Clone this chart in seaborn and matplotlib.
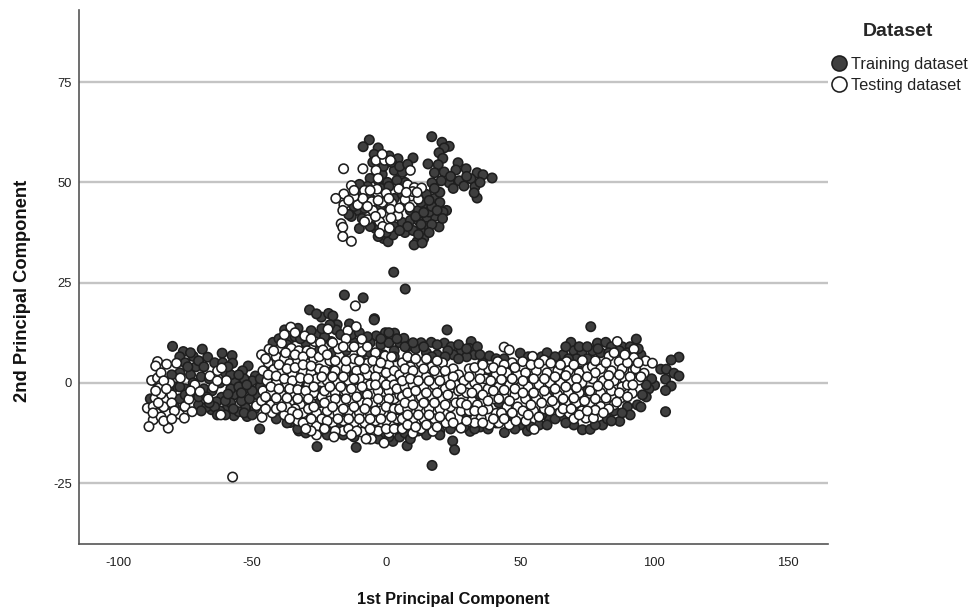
import pandas as pd
import seaborn as sns
import matplotlib.pyplot as plt

# values (pc1, pc2)
train_upper = [(-6.3,60.6),(-8.6,58.9),(-3,58.6),(1.1,56.6),(10,56.1),(4.4,55.9),(17,61.4),(20.8,60),(23.5,59),(21.6,58.6),
    (19.7,57.4),(21.1,56),(15.6,54.6),(19.4,54.4),(26.8,54.9),(29.8,53.4),(26,53.1),(18,52.4),(21.6,52.6),(33.9,52.4),
    (36.1,51.9),(39.5,51.1),(31.6,50.9),(27.2,50.4),(23.5,49.9),(20.5,50.4),(17.1,49.9),(29,49.1),(33.1,48.9),(33.9,46.1),
    (32.8,47.4),(-2,56.5),(-4.5,57),(-1.5,52),(3,53),(6,52.5),(0.5,50),(-3,50.5),(7,50),(-6,51),(-9,47),(-12,46),(-6,46),
    (-11,43),(-13,41.5),(-9,41),(-5,41),(-2,44),(3,46),(6,47),(-8,43.5),(-4,38.5),(-1,36),(0.7,35.2),(2.6,36.9),(-2.5,38.5),
    (3,39),(6,40),(9,40.5),(9,43),(12,43),(15,44),(18,46),(20,45),(22.5,43),(21.2,42.6),(18,41.5),(15,41),(12,40.5),(16,42.6),
    (19.7,38.9),(15,39),(13,37.7),(14,36),(11.5,35.2),(10.4,34.4),(13.4,34.9),(12,46.5),(15,47),(7,37.5),(4,43),
    (-5,55),(-1,54),(2,55),(5,54),(8,54.5),(-2,48.5),(1,49),(4,50.5),(7,44.5),(11,41.5),(14,42.5),(17,44),(19,43),(21,41),
    (17,39.5),(13,39.5),(10,38),(16,37.5),(12,37),(8,39),(5,38),(0,37.5),(-3,36.5),(-6,39),(-10,38.5),(-12,44),(-14,42),
    (-7,49),(-10,49.5),(13,45),(16,45.5),(20,47.5),(18,48.5),(24,51.5),(25,48.5),(30,51.5),(35,50)]
train_left = [(-79.7,9.1),(-68.6,8.4),(-75.7,7.8),(-77,6.5),(-72,6.6),(-66.6,6.4),(-61.2,7.4),(-57.5,6.8),(-57.3,4.9),(-51.5,4.2),
    (-53.6,3),(-48.8,1.7),(-75,5),(-71,4),(-73,7.5),(-70,5.5),(-73,2),(-77,2.5),(-69,1.5),(-79,-1),(-75,-1.5),(-72,-3),(-77,-4),
    (-83,-3),(-68,-1.5),(-66,1),(-62,0),(-65,-2),(-70,-5.5),(-65.2,-6.7),(-59.6,-6.6),(-56.8,-8.2),(-51.9,-8.4),(-52.5,-6.2),
    (-52.7,-1.5),(-56.8,-3),(-56.5,0.3),(-61.4,-3.6),(-63.3,-4.7),(-60,2.5),(-48,-3),(-50,0.5),(-47,-1),(-54,-4.5),(-58,-5),
    (-49,-6.5),(-62,-7),(-67,-6),(-55,-7.2),(-53,1),(-47.2,-11.5),(-88,-4),(-85,-1),(-80,2),(-64,5),
    (-74,4),(-68,4),(-72,0),(-75,-3),(-70,-3.5),(-67,-3.5),(-64,-6),(-60,-4.5),(-58,-1.5),(-55,-1),(-59,-2.8),(-54,-2.5),
    (-51,-4),(-50,-2),(-52,-0.5),(-58,2),(-55,2),(-61,5),(-59,4),(-79,-6),(-77,-1),(-81,-2),(-66,-5),(-53,-7.5),(-57,-6.5),
    (-60,-8),(-63,-8),(-69,-7),(-47,1),(-45,3),(-44,-1),(-50,-8)]
train_mid = [(-32.6,-12),(-25.8,-15.9),(-11.2,-16.1),(-4.4,16),(-6.2,-14),(2.5,-14.6),(-13.7,-11.7),(-35.8,-9.9),(-42.2,10.1),
    (-37.9,13.2),(-32.9,13.6),(-36,11),(-34,11.5),(-28.6,18.2),(-24.2,16.4),(-26,17.2),(-21.5,17.3),(-19.9,16.7),(-18.3,14.5),
    (-13.7,14.7),(-26.1,12),(-18.6,13.2),(-20.5,10.3),(-23,11.5),(-15,11.5),(-12,10),(-3.7,11.7),(-0.3,12.5),(3.1,12.4),(-6,10),
    (-2,9.5),(1,10),(5,10),(6.6,11.1),(3,8),(8,9),(-9,7.5),(-30,10),(-38,7),(-34,-8),(-28,-10.5),(-20,-12),(-16,-13),(-2,-13),
    (5,-13.5),(7.8,-15.7),(-22,-13),(-39,-7),(-44,-3),(-30,0),(-20,3),(-10,-3),(0,4),(-25,-5),(-15,-7),(2.8,27.6),(7.1,23.4),
    (-15.6,21.9),(-8.6,21.2),(-4.5,15.7),
    (-40,11),(-37,9.5),(-32,11),(-28,13),(-24,13.5),(-21,14.5),(-17,12),(-13,12),(-10,12.5),(-7,11.5),(-2,11),(1,12.5),(4,11),
    (7,9),(-25,8),(-20,7.5),(-15,8),(-6,7.5),(-1,7),(3,6.5),(-33,-11.5),(-30,-12.5),(-24,-11.5),(-18,-11),(-12,-13.5),(-8,-12.5),
    (-3,-14),(1,-13.5),(4,-11.5),(7,-12.5),(9,-14),(-37,-10),(-41,-9),(-25,-2),(-12,2),(-5,-6),(4,-8),(-18,-4),(-8,5)]
train_right = [(22.7,13.2),(13,10),(16.8,10.1),(21.7,9.9),(24.2,9),(31.7,10.3),(31,8.6),(28,8),(25,7),(33,7),(30,6.5),(36,5),
    (11,8.5),(15,7.5),(19,7),(38.5,6.7),(50,7.4),(55,5),(58,6.5),(61,6),(64,5),(68.9,10.1),(70,8),(73,7.5),(66,7),(76.3,14),
    (78.8,9.9),(81.9,10.1),(77,8),(80,7.5),(84,9),(88,9),(91,9),(93.3,10.9),(95,7),(109.2,6.4),(106.3,5.7),(102.4,3.4),(104.5,3.4),
    (107.3,2.4),(109.2,1.7),(104.2,0.9),(106.3,-0.8),(104.2,-1.9),(100.1,-0.6),(104.2,-7.2),(98,-1.5),(97,-3.5),(87.1,-9.6),
    (80.7,-10.5),(82.5,-9),(73.2,-11.7),(76.1,-11.6),(44.1,-12.4),(52.7,-12),(57.1,-10.5),(35.1,-11),(31.3,-12.1),(24.8,-14.5),
    (25.5,-16.7),(17.1,-20.6),(60.8,-9),(65.8,-8.4),(90,-6),(93.7,-5.5),(95.6,-3),(14,-11),(20,-12),(30,-8),(42,-5),(47,-8),
    (55,-4),(62,-3),(70,-6),(75,-2),(85,-7),(40,2),(47,3),(53,1),(64,2),(72,3),(35,-3),(58,-8),
    (10,10),(14,9),(19,9.5),(23,8),(27,9.5),(27,6),(30,8.5),(34,9),(35,7),(22,6.5),(17,6.5),(41,6),(44,6),(53,6.5),(60,7.5),(63,6.5),
    (67,9),(72,9),(75,9),(79,8.5),(83,7.5),(87,8),(90,7.5),(94,8.5),(75,6),(71,6),(68,6),(99,1),(97,-0.5),(95,-6),(91,-8),(88,-7.5),
    (84,-9.5),(78,-10.5),(70,-10.5),(67,-10),(63,-9),(60,-10.5),(54,-11),(50,-10.5),(48,-11.5),(41,-10),(38,-11.5),(33,-11.5),
    (29,-11),(24,-11.5),(20,-13),(15,-13),(12,-12)]

test_left = [(-85.3,5.3),(-86,4.2),(-81.9,4.65),(-78.2,4.9),(-87.5,0.6),(-85.3,1.2),(-84,-0.5),(-80.7,-0.1),(-84.8,-1.3),(-86.2,-3.8),
    (-82.5,-4.2),(-84,-2.8),(-80,-3),(-89.1,-6.3),(-86.9,-5.9),(-85.6,-7.6),(-81.9,-7.6),(-83,-6),(-86.9,-9.2),(-88.5,-10.9),(-81.3,-11.3),
    (-77.2,-7.8),(-75.3,-8.8),(-75.1,-5.9),(-72.4,-7.2),(-73.6,-4.1),(-71.4,-0.5),(-73,-2),(-69.5,-2.2),(-65.8,1.7),(-62.9,3),
    (-64.5,-1.1),(-66.4,-4),(-59.6,0.6),(-61.7,-8),(-76.8,1.2),(-61.4,3.7),(-48.4,-5.7),(-46.3,-8.6),(-57.3,-23.5),(-84,2.5),(-63,0.5),
    (-83,0.5),(-86,-2),(-82,-1.5),(-80,-5),(-85,-5),(-79,-7),(-84,-8.5),(-87,-7.5),(-83,-9.5),(-80,-9)]
test_a = [(-35.6,13.9),(-30.4,11.7),(-39,9.9),(-43.7,8.4),(-46.5,7),(-35.4,8.6),(-32.6,8),(-29.5,8),(-26.7,10.3),(-41,6.5),(-38,6),
    (-44,5),(-36,4.8),(-33,5.5),(-30,5),(-27,6),(-46,3),(-42,3.3),(-39,2.5),(-35,2.2),(-31,2.8),(-28,2.5),(-44.5,0.5),(-41,0),
    (-37,-0.3),(-33,0),(-29,-0.5),(-26,1),(-46,-2),(-43,-2.5),(-39,-3),(-35,-2.5),(-31,-3),(-27,-2.5),(-46.5,-4.5),(-43,-5.5),
    (-40,-5),(-36,-5),(-32,-5.5),(-28,-5),(-42.5,-7.5),(-38,-8),(-34,-6.5),(-30,-8),(-26,-7.5),(-33,-9.5),(-29,-10),(-26,-10.8),
    (-31,-7.5),(-37,-6),(-24,-3.5),(-25,3.5),(-24,-9),
    (-34,12.5),(-38,12),(-28,11),(-24.5,10),(-42,8),(-37.5,7.5),(-34,7),(-31,6.5),(-28,7.5),(-25,6.5),(-45,6),(-40,4.5),(-37,3.5),
    (-34,3.8),(-31,4.5),(-28,4.2),(-44,2),(-41,1.7),(-38,1),(-35,0.5),(-32,1.2),(-29,1),(-43,-1),(-40,-1.5),(-36,-1.5),(-33,-1.7),
    (-30,-2),(-27,-1),(-45,-3.5),(-41,-3.8),(-37,-3.8),(-33,-4),(-29,-4),(-45,-6.5),(-41,-6.5),(-39,-6),(-35,-7.2),(-33,-7.8),(-29,-6.5),
    (-27,-6),(-36,-9),(-31,-10),(-28,-9)]
test_b = [(-21.7,13.4),(-14.3,13),(-11.2,14),(-23.6,8.2),(-17.4,6.6),(-13.7,9),(-9.1,10.9),(-9.1,7.8),(-0.4,6.7),(-6.8,4.9),(-15,11),
    (-21,5.5),(-18,8.5),(-12,6),(-4,7.5),(-23,3),(-19,3),(-15,3.5),(-11,3),(-7,2),(-3,3.5),(1,4.5),(-22,0.5),(-18,0),(-14,0.5),
    (-10,1),(-6,-0.5),(-2,0.5),(2,1),(-23,-2),(-19,-2.5),(-15,-2),(-11,-1.5),(-7,-3),(-3,-2),(1,-2),(5,-1),(-21,-4.5),(-17,-5),
    (-13,-4.5),(-9,-5),(-5,-5),(-1,-4.5),(3,-4),(-22,-7),(-18,-7.5),(-14,-7),(-10,-7.5),(-6,-7.5),(-2,-7),(2,-6.5),(-20,-10),(-16,-9.5),
    (-12,-10),(-8,-10),(-4,-9.5),(0,-9.5),(4,-9),(-16,-12),(-9,-12.3),(-3,-12),(1,-12.5),(-0.8,-15),(-5.5,-14),(-26,-13),(-28,-12),(-30,-11.5),
    (-20,10),(-16,9),(-12,9),(-7,9),(-22,7),(-19,5.5),(-15,5.5),(-10,5.5),(-5,5.5),(-2,5),(2,6.5),(-24,1.5),(-20,1.5),(-16,1.5),(-12,1),
    (-8,3.5),(-4,1.5),(0,2.5),(3,3),(-21,-1),(-17,-1),(-13,-1.5),(-9,-1),(-4,-0.5),(0,-0.5),(3,-0.5),(-23,-5),(-19,-4),(-15,-4),(-11,-3.5),
    (-7,-5),(-3,-4),(1,-4),(5,-3),(-20,-6),(-16,-6.5),(-12,-6),(-8,-6.5),(-4,-7),(0,-6),(3,-6.5),(-22,-9.5),(-18,-9),(-14,-9),(-10,-9),
    (-6,-9),(-2,-9),(2,-8.5),(-23,-11.5),(-19,-12),(-14,-11.5),(-11,-12),(-6,-11.5),(0,-11.5),(3,-11.5),(-19.5,-13.5),(-13,-13),(-7.5,-14)]
test_c = [(6,5),(9,4),(13,5),(17,4),(21,5),(25,3.5),(5,2),(8,1.5),(12,2.5),(15,1.5),(19,2),(23,1),(27,2),(4,-1.5),(7,-1),(10,-0.5),
    (14,-1),(18,-0.5),(22,-1.5),(26,-0.5),(6,-3.5),(9,-4),(13,-3.5),(17,-3.5),(21,-4),(25,-3.5),(5,-6.5),(8,-6.5),(12,-6),(16,-6.5),
    (20,-6.5),(24,-6),(6,-9),(10,-9),(14,-9),(18,-9),(22.3,-10),(9.9,-12.6),(17.4,-12.1),(13,-11.5),(6,-11.5),(24,-8.5),(28,-7),
    (8,6.5),(11,6),(15,6),(19,5.5),(7,3.5),(10,3),(14,3.5),(18,3),(22,3),(25,1.5),(6,0.5),(9,1),(12,0.5),(16,0.5),(20,0.5),(24,-0.5),
    (8,-2.5),(11,-2),(15,-2.5),(19,-2.5),(23,-3),(27,-2),(7,-5),(10,-5.5),(14,-5),(18,-5),(22,-5.5),(26,-5),(8,-8),(12,-8),(16,-8),
    (20,-8.5),(8,-10.5),(11,-11),(15,-10.5),(19,-11),(25,-10)]
test_d = [(44,8.9),(45.9,8.2),(41.6,5.3),(50.9,5.3),(47,5),(44,4.5),(38,3.5),(35,2.5),(31,3.5),(29,0.5),(33,0),(37,1),(41,2),(45,2.5),
    (49,2),(30,-2.5),(34,-1.5),(38,-1.5),(42,-1),(46,-0.5),(50,-1),(28,-5),(32,-4.5),(36,-5),(40,-4),(44,-3.5),(48,-3),(31,-7),(35.4,-8.8),
    (41,-7.6),(38,-6.5),(45,-6),(49,-6),(27.9,-11.3),(38.5,-10.5),(45.9,-10.5),(48.4,-9.5),(33,-10),(42,-10),
    (33,3.8),(36,4.5),(40,3.8),(43,3),(48,3.8),(31,1.5),(35,1),(39,0.5),(43,0.8),(47,1),(28,-1.5),(32,-2.5),(36,-3),(40,-2),(44,-1.8),(48,-1.5),
    (30,-5.5),(34,-5.5),(38,-4.5),(42,-4),(46,-4.5),(33,-7),(36,-7),(40,-9),(43,-7.5),(47,-7.5),(30,-9.5),(36,-10),(44,-9)]
test_e = [(54.6,6.6),(58.9,5.7),(61.4,4.9),(67.3,5.3),(73.2,5.6),(52,2.5),(56,3),(60,2.5),(64,3),(68,3),(72,2.5),(53,-1),(57,-0.5),(61,0),
    (65,0),(69,0.5),(73,0),(52,-4),(56,-4),(60,-3.5),(64,-3),(68,-2.5),(72,-2.5),(51,-7),(55,-7),(59,-6.5),(63,-5.5),(67,-5),(71,-5),
    (52.1,-9.5),(55.2,-11.6),(64.9,-7.4),(68.3,-7.6),(74.5,-8.8),(73,-7),(70,-9),
    (54,4.5),(57,4.8),(65,4.5),(70,4.5),(75,3.5),(51,0.5),(55,1),(59,1),(63,1.5),(67,1.8),(71,1),(51,-2.5),(55,-2.5),(59,-2),(63,-1.5),(67,-1),(71,-1.2),
    (54,-5.5),(58,-5),(62,-4.5),(66,-4),(70,-3.8),(53,-8),(57,-8.5),(61,-7),(66,-6.5),(69,-6.5),(72,-8)]
test_right = [(76.9,4.1),(86.2,10.3),(92.4,8.4),(83.1,6.6),(86.9,5.3),(96.8,5.5),(99.3,4.9),(92.4,6.3),(80,-5.9),(77.3,-8.8),(85,-5.5),
    (87.5,-3.8),(91.8,-2.6),(94.3,0.7),(96.2,2.4),(80,3.5),(84,3),(88,3.5),(92,3),(77,1),(81,0.5),(85,0.5),(89,1),(93,3.5),(76,-2),
    (80,-2.5),(84,-2),(88,-1),(76,-5),(82,-3.8),(90,-0.5),(90,5),(74,-4.5),(78,-6.8),
    (78,5.5),(82,5),(85,7.5),(89,7),(94,5),(78,2.5),(83,1.8),(87,2),(91,1.5),(95,1.5),(75,1.5),(79,-0.8),(83,-0.5),(87,-2.5),(92,-0.5),(78,-4),(83,-6.5),
    (86,-4.8),(90,-3.5),(81,-7.5),(75,-7)]
test_upper = [(-15.9,53.4),(-8.7,53.4),(-3.8,55.5),(-0.6,55.5),(1.6,55.5),(-3.8,53),(9,53),(-13,49.2),(-15.8,47.1),(-18.8,46),(-8.1,48),
    (-3.4,48.3),(0,47.3),(4.7,48.4),(8,49.4),(10.5,48.7),(13.2,48.6),(9.3,46.6),(12,45.8),(7,45.7),(-5.4,45.2),(-10.6,44.4),(-15.8,44.4),
    (-16.2,43),(-8.7,46),(2.1,44.8),(1.6,43.3),(-1.9,42.3),(-5,43),(4.3,41.7),(8.7,43.8),(-6.9,40.7),(-2.5,40.2),(1.8,41.1),(-1.3,39),
    (-16.8,39.7),(-16.2,38.8),(-16.2,36.5),(-13,35.3),(-2.5,37.3),(1.2,38.6),(-8.1,40.2),(4.9,43.6),(9.9,47.7),(-11.5,19.2),(-12,46.5),
    (-6,48),(-1.5,45),(-4,41.5),(-3,51),(-1.5,57),(11.5,47.5),(7.5,47.5),(-3,45.5),(1,46),(-7,44),(-12,48),(-14,45.5)]

train_points = train_upper + train_left + train_mid + train_right
test_points = test_left + test_a + test_b + test_c + test_d + test_e + test_right + test_upper
x_ticks = [-100, -50, 0, 50, 100, 150]
y_ticks = [-25, 0, 25, 50, 75]

df = pd.concat([
    pd.DataFrame(train_points, columns=['pc1', 'pc2']).assign(Dataset='Training dataset'),
    pd.DataFrame(test_points, columns=['pc1', 'pc2']).assign(Dataset='Testing dataset'),
], ignore_index=True)

sns.set_theme(style='white')
plt.rcParams['font.family'] = ['Liberation Sans', 'DejaVu Sans']
plt.rcParams['axes.unicode_minus'] = False

fig = plt.figure(figsize=(9.72, 6.10), dpi=100)
ax = fig.add_axes([79/972, 1 - 544/610, (828-79)/972, (544-10)/610])

sns.scatterplot(data=df, x='pc1', y='pc2', hue='Dataset',
                palette={'Training dataset': '#3f3f3f', 'Testing dataset': 'white'},
                s=46, edgecolor='#1e1e1e', linewidth=1.15, zorder=3, ax=ax)

ax.set_xlim(-114.6, 164.8)
ax.set_ylim(-40.2, 93)
ax.set_xticks(x_ticks)
ax.set_yticks(y_ticks)
ax.yaxis.grid(True, color='#c4c4c4', linewidth=1.7)
ax.set_axisbelow(True)
ax.tick_params(length=0, labelsize=9.4, colors='#222222')
ax.tick_params(axis='x', pad=9)
ax.tick_params(axis='y', pad=5)
ax.set_xlabel('1st Principal Component', fontsize=11.8, fontweight='bold', color='#111111', labelpad=17)
ax.set_ylabel('2nd Principal Component', fontsize=13.2, fontweight='bold', color='#111111', labelpad=16, y=0.474)

for side in ['top', 'right']:
    ax.spines[side].set_visible(False)
for side in ['left', 'bottom']:
    ax.spines[side].set_color('#555555')
    ax.spines[side].set_linewidth(1.2)

leg = ax.legend(title='Dataset', frameon=False, loc='upper left', bbox_to_anchor=(824/972, 1 - 18/610),
                bbox_transform=fig.transFigure, fontsize=11.8, title_fontproperties={'weight': 'bold', 'size': 14},
                markerscale=1.6, labelspacing=0.4, handletextpad=0.15, handlelength=1.2, borderpad=0.3, borderaxespad=0)
leg._legend_box.sep = 12
for t in leg.get_texts():
    t.set_color('#222222')

fig.savefig('out.png', dpi=100)
